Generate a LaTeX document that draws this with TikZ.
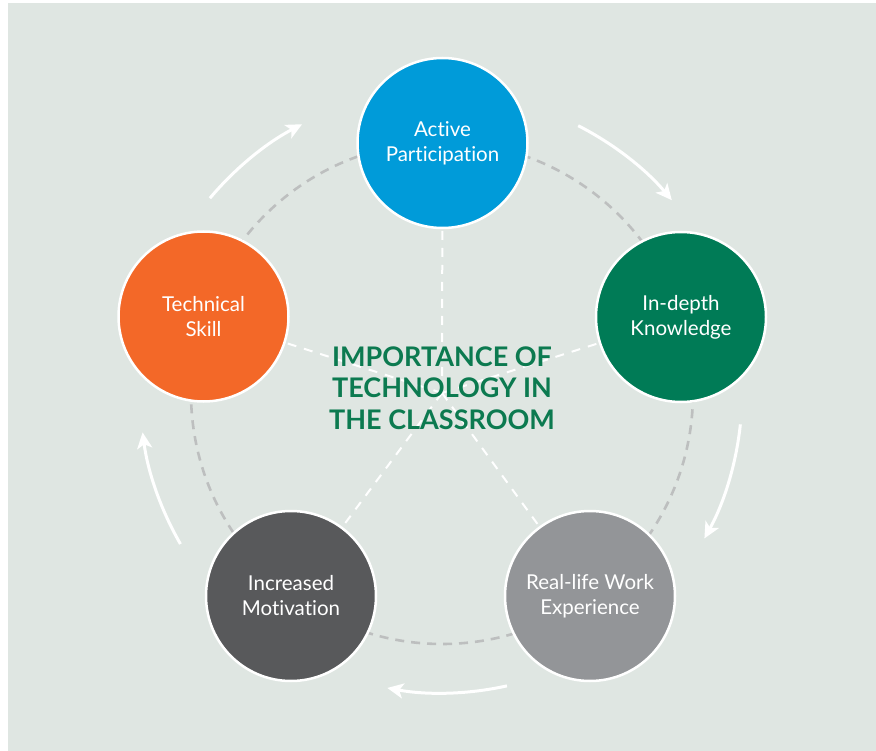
\documentclass[tikz,border=0pt]{standalone}
\usepackage{fontspec}
\setmainfont{Lato}[Ligatures={NoCommon,NoRare,NoContextual}]
\usetikzlibrary{arrows.meta,calc,backgrounds}
\definecolor{bgc}{HTML}{DFE6E2}
\definecolor{cblue}{HTML}{009BD9}
\definecolor{cgreen}{HTML}{007B56}
\definecolor{corange}{HTML}{F36828}
\definecolor{cdark}{HTML}{58595B}
\definecolor{clight}{HTML}{939598}
\definecolor{ring}{HTML}{BDBFBF}
\definecolor{titlegreen}{HTML}{0C7A50}
\tikzset{
  topic/.style={circle, draw=white, line width=2.5pt, minimum size=170pt, inner sep=0pt,
    text=white, align=center, font=\fontsize{20.5}{25}\selectfont},
  ringline/.style={draw=ring, line width=2.6pt, dash pattern=on 9pt off 7pt},
  spoke/.style={draw=white, line width=2pt, dash pattern=on 9pt off 8pt},
  flow/.style={draw=white, line width=3pt, -{Stealth[length=16pt,width=15pt,inset=4pt]}},
}
\begin{document}
\begin{tikzpicture}[x=1pt,y=1pt]
\useasboundingbox (0,0) rectangle (876,-751);
\coordinate (C) at (442,-393);
% topic circles
\node[topic, fill=cblue]   (ap) at (442.5,-143) {Active\\Participation};
\node[topic, fill=cgreen]  (ik) at (681,-317)   {In-depth\\Knowledge};
\node[topic, fill=clight]  (rw) at (590,-596)   {Real-life Work\\Experience};
\node[topic, fill=cdark]   (im) at (291,-596)   {Increased\\Motivation};
\node[topic, fill=corange] (ts) at (203.5,-316.5) {Technical\\Skill};
% title
\node[text=titlegreen, align=center, font=\fontsize{27}{31.5}\selectfont\bfseries] (title) at (442,-388)
  {IMPORTANCE OF\\TECHNOLOGY IN\\THE CLASSROOM};
\begin{pgfonlayer}{background}
  \fill[bgc] (8,-3) rectangle (876,-751);
  \draw[ringline] (C) circle[radius=251];
  \draw[spoke] (C) -- (ap);
  \draw[spoke] (C) -- (ik);
  \draw[spoke] (C) -- (rw);
  \draw[spoke] (C) -- (im);
  \draw[spoke] (C) -- (ts);
\end{pgfonlayer}
% cycle arrows
\draw[flow] ($(C)+(63:300)$) arc[start angle=63, end angle=40, radius=300];
\draw[flow] ($(C)+(-6:300)$) arc[start angle=-6, end angle=-29, radius=300];
\draw[flow] ($(C)+(-77.5:300)$) arc[start angle=-77.5, end angle=-100.5, radius=300];
\draw[flow] ($(C)+(210:302)$) arc[start angle=210, end angle=187.5, radius=302];
\draw[flow] ($(C)+(140:303)$) arc[start angle=140, end angle=117.5, radius=303];
\end{tikzpicture}
\end{document}
